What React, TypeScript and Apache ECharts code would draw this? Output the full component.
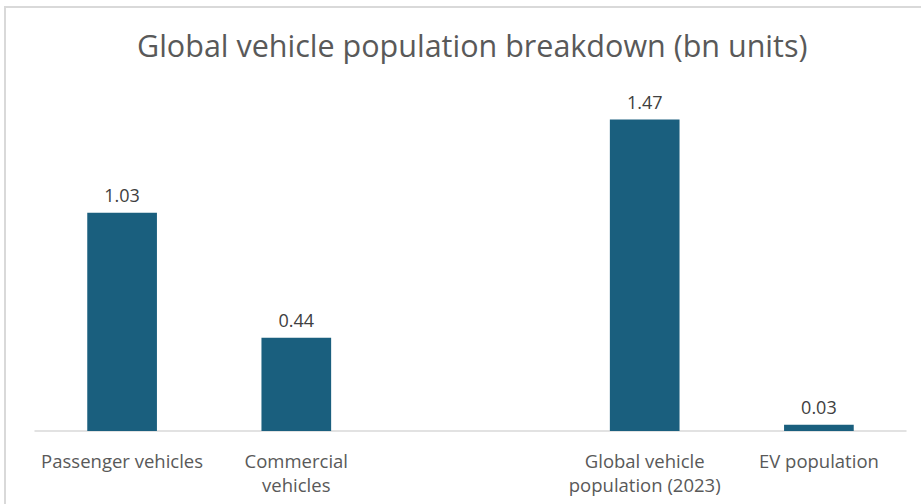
import React, { useEffect, useRef } from "react";
import * as echarts from "echarts";

const categories = [
  "Passenger vehicles",
  "Commercial\nvehicles",
  "",
  "Global vehicle\npopulation (2023)",
  "EV population",
];
const values: (number | string)[] = [1.03, 0.44, "-", 1.47, 0.03];
const titleText = "Global vehicle population breakdown (bn units)";

export default function App() {
  const ref = useRef<HTMLDivElement>(null);
  useEffect(() => {
    if (!ref.current) return;
    const chart = echarts.init(ref.current, null, { renderer: "svg" });
    chart.setOption({
      animation: false,
      backgroundColor: "#ffffff",
      title: {
        text: titleText,
        left: 132,
        top: 24,
        textStyle: {
          fontFamily: "Open Sans",
          fontSize: 30.5,
          fontWeight: "normal",
          color: "#595959",
        },
      },
      graphic: [
        {
          type: "rect",
          shape: { x: 5, y: 7, width: 930, height: 520 },
          style: { fill: "none", stroke: "#d9d9d9", lineWidth: 2 },
          silent: true,
        },
      ],
      grid: { left: 35, right: 15, top: 92, bottom: 73, containLabel: false },
      xAxis: {
        type: "category",
        data: categories,
        axisLine: { lineStyle: { color: "#d9d9d9", width: 1.5 } },
        axisTick: { show: false },
        axisLabel: {
          interval: 0,
          margin: 17,
          fontFamily: "Open Sans",
          fontSize: 18.5,
          lineHeight: 24,
          color: "#595959",
        },
      },
      yAxis: {
        type: "value",
        min: 0,
        max: 1.6,
        show: false,
        splitLine: { show: false },
      },
      series: [
        {
          type: "bar",
          data: values,
          barWidth: "40%",
          itemStyle: { color: "#1a5f7e" },
          label: {
            show: true,
            position: "top",
            distance: 9,
            fontFamily: "Open Sans",
            fontSize: 18,
            color: "#404040",
            formatter: (p: any) => Number(p.value).toFixed(2),
          },
        },
      ],
    });
    return () => chart.dispose();
  }, []);
  return (
    <div
      ref={ref}
      style={{ position: "fixed", left: 0, top: 0, width: 921, height: 504 }}
    />
  );
}
